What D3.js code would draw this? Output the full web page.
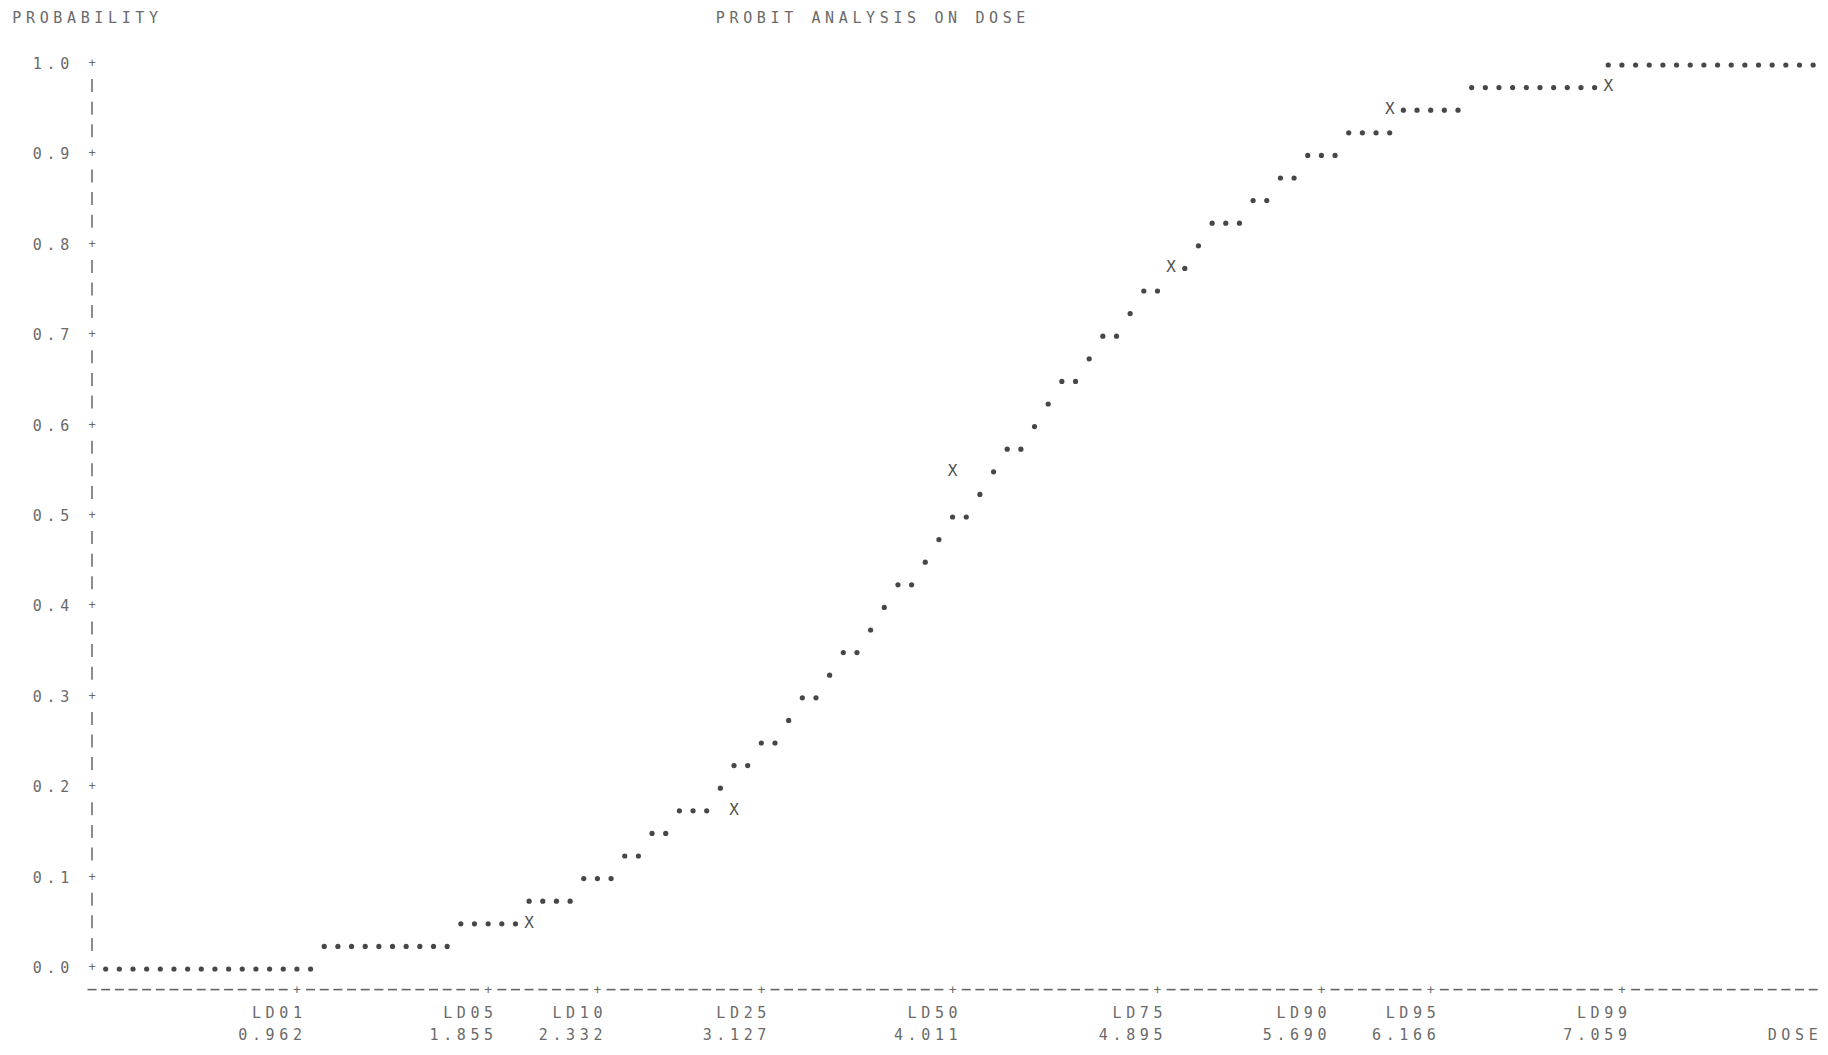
<!DOCTYPE html>
<html>
<head>
<meta charset="utf-8">
<script src="https://cdn.jsdelivr.net/npm/d3@7"></script>
<style>
  html, body { margin: 0; padding: 0; background: #ffffff; }
  svg { display: block; }
  .pr { font-family: "DejaVu Sans Mono", "Liberation Mono", monospace; font-size: 15px; fill: #6a6a6a; white-space: pre; }
  .mark { font-family: "DejaVu Sans Mono", "Liberation Mono", monospace; font-size: 16px; fill: #505050; }
</style>
</head>
<body>
<svg id="chart" width="1828" height="1055"></svg>
<script>
// Probability levels labelled on the vertical axis
const yTickValues = [0.0, 0.1, 0.2, 0.3, 0.4, 0.5, 0.6, 0.7, 0.8, 0.9, 1.0];
const yTickLabels = ["0.0", "0.1", "0.2", "0.3", "0.4", "0.5", "0.6", "0.7", "0.8", "0.9", "1.0"];

// Lethal-dose percentiles marked on the dose axis (name, estimated dose, print column)
const ldNames   = ["LD01", "LD05", "LD10", "LD25", "LD50", "LD75", "LD90", "LD95", "LD99"];
const ldDoses   = ["0.962", "1.855", "2.332", "3.127", "4.011", "4.895", "5.690", "6.166", "7.059"];
const ldColumns = [15, 29, 37, 49, 63, 78, 90, 98, 112];

// Fitted probit curve: one printed run of '.' per probability step
// [probability, first column, last column]
const curveRuns = [
  [0.000,   1,  16], [0.025,  17,  26], [0.050,  27,  31], [0.075,  32,  35],
  [0.100,  36,  38], [0.125,  39,  40], [0.150,  41,  42], [0.175,  43,  45],
  [0.200,  46,  46], [0.225,  47,  48], [0.250,  49,  50], [0.275,  51,  51],
  [0.300,  52,  53], [0.325,  54,  54], [0.350,  55,  56], [0.375,  57,  57],
  [0.400,  58,  58], [0.425,  59,  60], [0.450,  61,  61], [0.475,  62,  62],
  [0.500,  63,  64], [0.525,  65,  65], [0.550,  66,  66], [0.575,  67,  68],
  [0.600,  69,  69], [0.625,  70,  70], [0.650,  71,  72], [0.675,  73,  73],
  [0.700,  74,  75], [0.725,  76,  76], [0.750,  77,  78], [0.775,  79,  80],
  [0.800,  81,  81], [0.825,  82,  84], [0.850,  85,  86], [0.875,  87,  88],
  [0.900,  89,  91], [0.925,  92,  95], [0.950,  96, 100], [0.975, 101, 110],
  [1.000, 111, 126]
];

// Observed response proportions, printed as 'X'
const observedCols  = [32, 47, 63, 79, 95, 111];
const observedProps = [0.050, 0.175, 0.550, 0.775, 0.950, 0.975];

// Page text
const yTitle = "PROBABILITY";
const plotTitle = "PROBIT ANALYSIS ON DOSE";
const xTitle = "DOSE";

// ---------------------------------------------------------------
const svg = d3.select("#chart");
const colW = 13.66;                       // width of one print column
const lastCol = 126;

const x = d3.scaleLinear().domain([0, lastCol]).range([92, 92 + lastCol * colW]);
const y = d3.scaleLinear().domain([0, 1]).range([967, 63]);
const rowH = (y(0) - y(1)) / 40;          // height of one print line
const rowY = r => y(0) - r * rowH;        // print line r (0 = probability 0)

// Write a string with one character per print column, starting at column c
function printAt(str, c, yPix, cls) {
  const chars = str.split("");
  svg.append("text")
    .attr("class", cls || "pr")
    .attr("x", chars.map((ch, i) => x(c + i)).join(" "))
    .attr("y", yPix)
    .attr("dy", "0.36em")
    .attr("text-anchor", "middle")
    .text(str);
}

// Titles
printAt(yTitle, -5.5, rowY(42));
printAt(plotTitle, 46, rowY(42));
printAt(xTitle, 123, rowY(-3));

// Vertical printer axis: '+' at labelled levels, '|' between them
const axisRows = d3.range(0, 41);
const gAxisY = svg.append("g");
gAxisY.selectAll("line")
  .data(axisRows.filter(r => r % 4 !== 0))
  .join("line")
  .attr("x1", x(0)).attr("x2", x(0))
  .attr("y1", r => rowY(r) - 6.5).attr("y2", r => rowY(r) + 6.5)
  .attr("stroke", "#666666").attr("stroke-width", 1.5);
gAxisY.selectAll("text")
  .data(yTickValues)
  .join("text")
  .attr("class", "pr")
  .attr("x", x(0)).attr("y", d => y(d)).attr("dy", "0.33em")
  .attr("text-anchor", "middle")
  .style("font-size", "12px")
  .text("+");

// Vertical axis labels
const yAxis = d3.axisLeft(y)
  .tickValues(yTickValues)
  .tickFormat((d, i) => yTickLabels[i])
  .tickSize(0)
  .tickPadding(0);
const gy = svg.append("g")
  .attr("transform", `translate(${x(0)},0)`)
  .call(yAxis)
  .attr("font-family", null).attr("font-size", null);
gy.select(".domain").remove();
gy.selectAll(".tick text")
  .attr("class", "pr")
  .attr("text-anchor", "middle")
  .attr("dy", "0.36em")
  .attr("fill", null)
  .each(function () {
    const s = this.textContent;
    d3.select(this).attr("x", s.split("").map((ch, i) => (i - s.length - 1) * colW).join(" "));
  });

// Horizontal printer axis: '-' in every column, '+' at the percentile columns
const axisCols = d3.range(0, lastCol + 1);
const gAxisX = svg.append("g");
gAxisX.selectAll("line")
  .data(axisCols.filter(c => !ldColumns.includes(c)))
  .join("line")
  .attr("x1", c => x(c) - 4.5).attr("x2", c => x(c) + 4.5)
  .attr("y1", rowY(-1)).attr("y2", rowY(-1))
  .attr("stroke", "#666666").attr("stroke-width", 1.6);
gAxisX.selectAll("text")
  .data(ldColumns)
  .join("text")
  .attr("class", "pr")
  .attr("x", c => x(c)).attr("y", rowY(-1)).attr("dy", "0.36em")
  .attr("text-anchor", "middle")
  .style("font-size", "13px")
  .text("+");

// Percentile labels under the dose axis (name, then dose), ending in the tick column
const xAxis = d3.axisBottom(x)
  .tickValues(ldColumns)
  .tickFormat((d, i) => ldNames[i])
  .tickSize(0)
  .tickPadding(0);
const gx = svg.append("g")
  .attr("transform", `translate(0,${rowY(-2)})`)
  .call(xAxis)
  .attr("font-family", null).attr("font-size", null);
gx.select(".domain").remove();
gx.selectAll(".tick text")
  .attr("class", "pr")
  .attr("text-anchor", "middle")
  .attr("y", 0)
  .attr("dy", "0.36em")
  .attr("fill", null)
  .each(function () {
    const s = this.textContent;
    d3.select(this).attr("x", s.split("").map((ch, i) => (i - s.length + 1) * colW).join(" "));
  });
gx.selectAll(".tick")
  .append("text")
  .attr("class", "pr")
  .attr("text-anchor", "middle")
  .attr("y", rowH)
  .attr("dy", "0.36em")
  .text((d, i) => ldDoses[i])
  .each(function () {
    const s = this.textContent;
    d3.select(this).attr("x", s.split("").map((ch, i) => (i - s.length + 1) * colW).join(" "));
  });

// Fitted curve dots (a printed 'X' takes the cell when both fall on it)
const observed = observedCols.map((c, i) => ({ col: c, p: observedProps[i] }));
const taken = new Set(observed.map(o => o.col + ":" + o.p.toFixed(3)));
const dots = [];
curveRuns.forEach(([p, c0, c1]) => {
  d3.range(c0, c1 + 1).forEach(c => {
    if (!taken.has(c + ":" + p.toFixed(3))) dots.push({ col: c, p });
  });
});
svg.append("g")
  .selectAll("circle")
  .data(dots)
  .join("circle")
  .attr("cx", d => x(d.col))
  .attr("cy", d => y(d.p) + 2)
  .attr("r", 2.6)
  .attr("fill", "#474747");

// Observed proportions
svg.append("g")
  .selectAll("text")
  .data(observed)
  .join("text")
  .attr("class", "mark")
  .attr("x", d => x(d.col))
  .attr("y", d => y(d.p))
  .attr("dy", "0.36em")
  .attr("text-anchor", "middle")
  .text("X");
</script>
</body>
</html>
